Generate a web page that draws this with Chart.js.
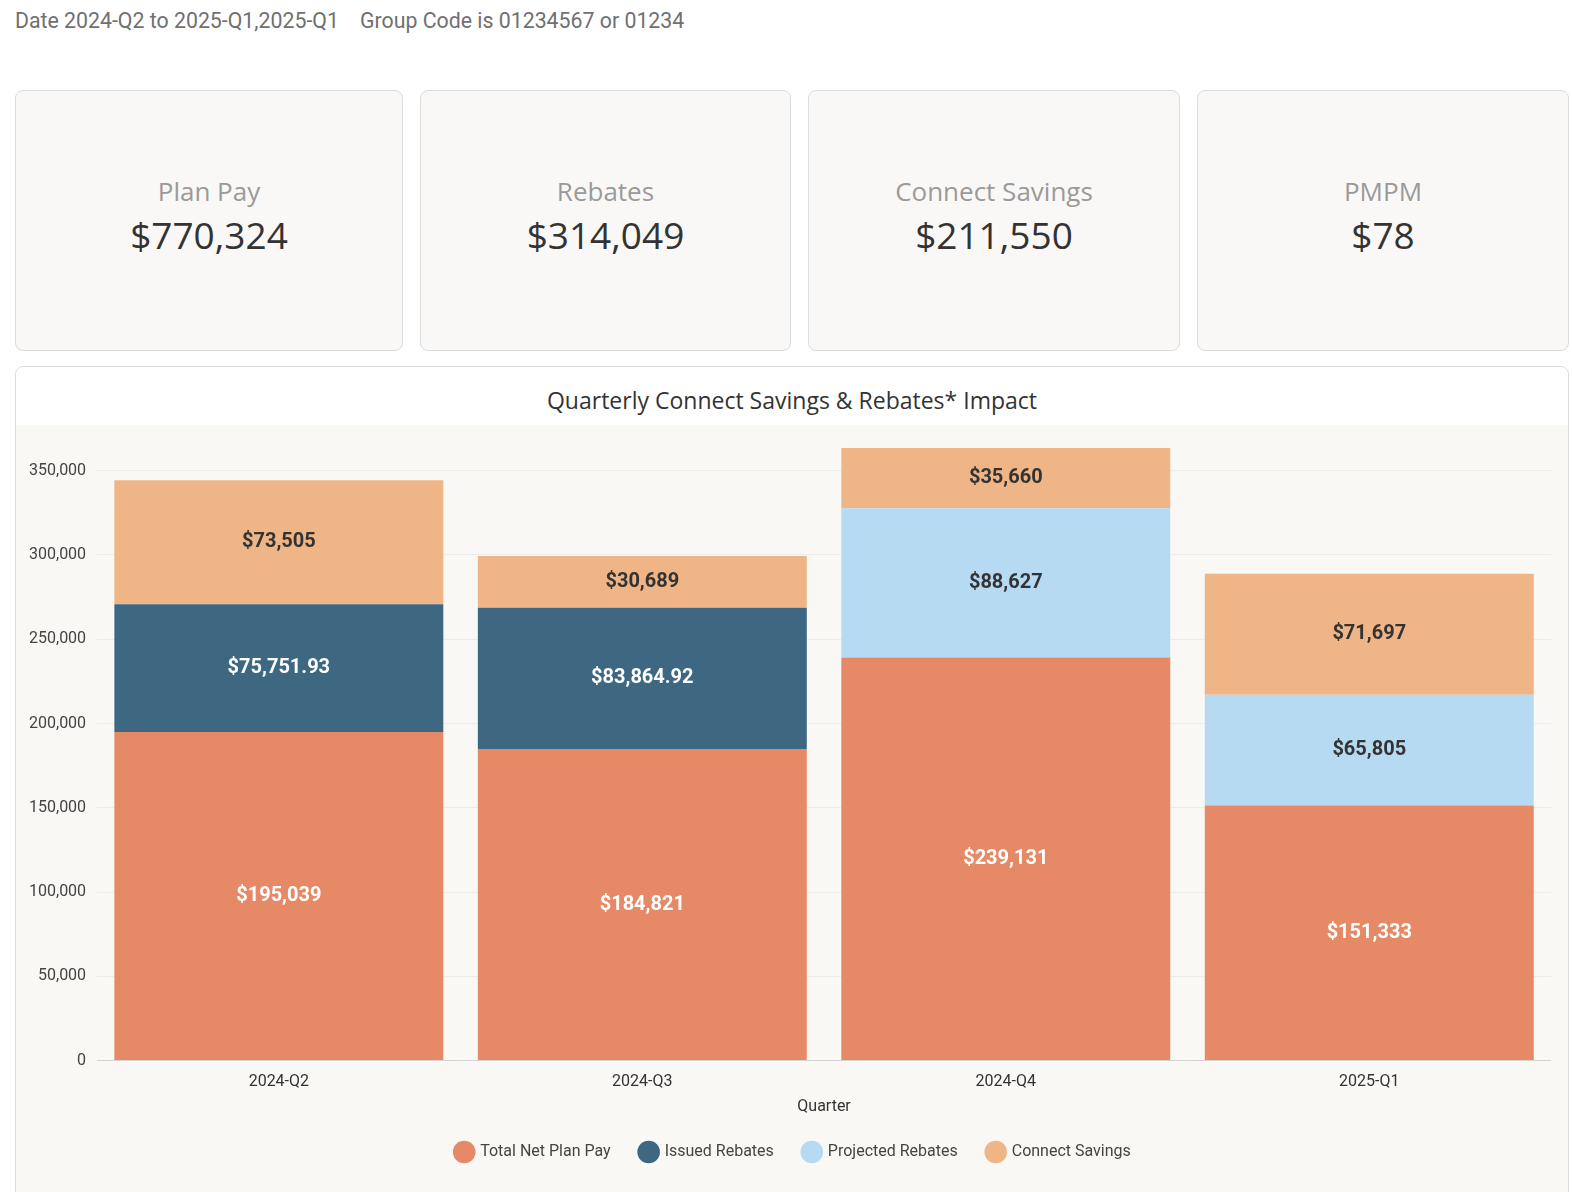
<!DOCTYPE html>
<html>
<head>
<meta charset="utf-8">
<script src="https://cdn.jsdelivr.net/npm/chart.js@4/dist/chart.umd.min.js"></script>
<style>
  html, body { margin: 0; background: #fff; height: 100%; overflow: hidden; }
  body { position: relative; font-family: Roboto, sans-serif; }
  .filters { position: absolute; left: 15px; top: 8px; font-size: 21.3px; color: #707070; white-space: pre; }
  .cards { position: absolute; left: 15px; right: 3px; top: 90px; height: 261px; display: flex; gap: 17px; }
  .card { height: 100%; background: #faf8f6; border: 1px solid #dcdcdc; border-radius: 8px;
          display: flex; flex-direction: column; align-items: center; justify-content: center; padding-bottom: 5px; box-sizing: border-box;
          font-family: "Open Sans", sans-serif; }
  .card .lbl { font-size: 26px; color: #9a9a9a; line-height: 34px; }
  .card .val { font-size: 37px; color: #333; line-height: 54px; }
  .panel { position: absolute; left: 15px; right: 3px; top: 366px; height: 900px; border: 1px solid #dcdcdc; border-radius: 8px;
           box-sizing: border-box; background: #faf8f5; overflow: hidden; }
  .panel .title { height: 58px; background: #fff; text-align: center; font-family: "Open Sans", sans-serif; font-size: 23px;
                  color: #333; line-height: 66px; }
  .panel .wrap { position: absolute; left: 0; right: 0; top: 59px; height: 767px; }
</style>
</head>
<body>
<div class="filters">Date 2024-Q2 to 2025-Q1,2025-Q1    Group Code is 01234567 or 01234</div>

<div class="cards">
  <div class="card" style="flex:387"><div class="lbl">Plan Pay</div><div class="val">$770,324</div></div>
  <div class="card" style="flex:370"><div class="lbl">Rebates</div><div class="val">$314,049</div></div>
  <div class="card" style="flex:371"><div class="lbl">Connect Savings</div><div class="val">$211,550</div></div>
  <div class="card" style="flex:371"><div class="lbl">PMPM</div><div class="val">$78</div></div>
</div>

<div class="panel">
  <div class="title">Quarterly Connect Savings &amp; Rebates* Impact</div>
  <div class="wrap"><canvas id="myChart"></canvas></div>
</div>

<script>
const quarters = ['2024-Q2', '2024-Q3', '2024-Q4', '2025-Q1'];
const netPlanPay = [195039, 184821, 239131, 151333];
const issuedRebates = [75751.93, 83864.92, null, null];
const projectedRebates = [null, null, 88627, 65805];
const connectSavings = [73505, 30689, 35660, 71697];
const yTicks = [0, 50000, 100000, 150000, 200000, 250000, 300000, 350000];

const money = (v) => '$' + v.toLocaleString('en-US', { maximumFractionDigits: 2 });

// draws the value in the middle of each stacked segment
const barLabels = {
  id: 'barLabels',
  afterDatasetsDraw(chart) {
    const ctx = chart.ctx;
    ctx.save();
    ctx.font = 'bold 20px Roboto';
    ctx.textAlign = 'center';
    ctx.textBaseline = 'middle';
    chart.data.datasets.forEach((ds, i) => {
      const meta = chart.getDatasetMeta(i);
      if (meta.hidden) return;
      meta.data.forEach((bar, j) => {
        const v = ds.data[j];
        if (!v) return;
        ctx.fillStyle = ds.labelColor;
        ctx.fillText(money(v), bar.x, (bar.y + bar.base) / 2);
      });
    });
    ctx.restore();
  }
};

// legend sits centred under the plot area rather than the whole canvas
const legendShift = {
  id: 'legendShift',
  afterLayout(chart) {
    chart.legend.left += 9;
    chart.legend.right += 9;
  }
};

const tickFont = { family: 'Roboto', size: 16 };

new Chart('myChart', {
  type: 'bar',
  data: {
    labels: quarters,
    datasets: [
      { label: 'Total Net Plan Pay', data: netPlanPay, backgroundColor: '#e58966', labelColor: '#fff' },
      { label: 'Issued Rebates', data: issuedRebates, backgroundColor: '#3e6782', labelColor: '#fff' },
      { label: 'Projected Rebates', data: projectedRebates, backgroundColor: '#b5daf1', labelColor: '#333' },
      { label: 'Connect Savings', data: connectSavings, backgroundColor: '#efb587', labelColor: '#333' }
    ]
  },
  options: {
    responsive: true,
    maintainAspectRatio: false,
    animation: false,
    datasets: { bar: { categoryPercentage: 1, barPercentage: 0.905, borderWidth: 0 } },
    layout: { padding: { left: 2, right: 17, top: 5, bottom: 23 } },
    plugins: {
      legend: {
        position: 'bottom',
        labels: { usePointStyle: true, pointStyle: 'circle', boxWidth: 16, boxHeight: 16, padding: 30, color: '#444', font: tickFont }
      },
      tooltip: { enabled: false }
    },
    scales: {
      x: {
        stacked: true,
        grid: { display: false, drawTicks: false },
        border: { display: false },
        ticks: { color: '#333', font: tickFont, padding: 12 },
        title: { display: true, text: 'Quarter', color: '#333', font: tickFont, padding: { top: -6, bottom: -3 } }
      },
      y: {
        stacked: true,
        min: 0,
        max: 364300,
        afterBuildTicks: (scale) => { scale.ticks = yTicks.map(v => ({ value: v })); },
        grid: {
          drawTicks: false,
          color: (c) => c.tick && c.tick.value === 0 ? '#d4d4d4' : '#ececec'
        },
        border: { display: false },
        ticks: { color: '#444', font: tickFont, padding: 11, callback: (v) => v.toLocaleString('en-US') }
      }
    }
  },
  plugins: [barLabels, legendShift]
});
</script>
</body>
</html>
